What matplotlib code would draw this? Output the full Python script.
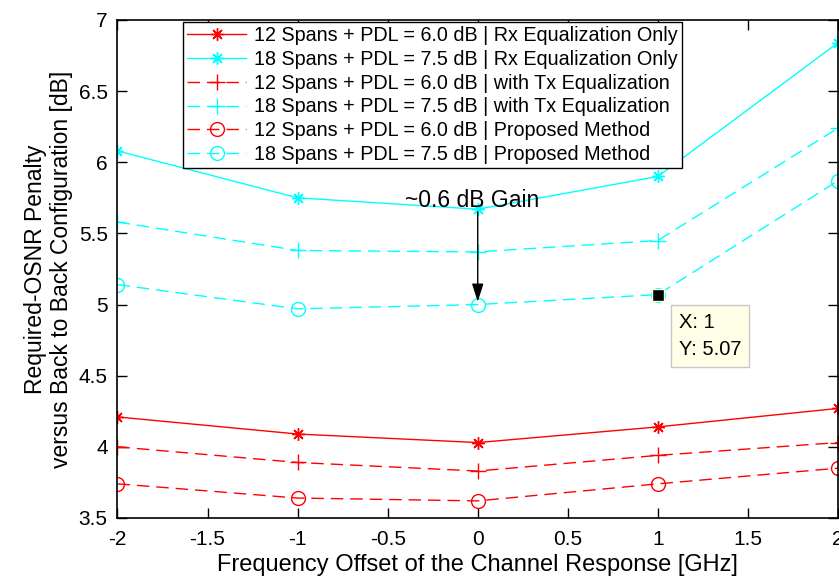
import numpy as np
import matplotlib
matplotlib.use("Agg")
from matplotlib import pyplot as plt

plt.rcParams['font.family'] = ['Liberation Sans', 'DejaVu Sans']

# 频率偏移 [GHz]
freq = [-2, -1, 0, 1, 2]

# 12 spans, PDL = 6.0 dB
red_rx = [4.21, 4.09, 4.03, 4.14, 4.27]
red_tx = [4.00, 3.89, 3.83, 3.94, 4.03]
red_prop = [3.74, 3.64, 3.62, 3.74, 3.85]

# 18 spans, PDL = 7.5 dB
cyan_rx = [6.08, 5.75, 5.67, 5.90, 6.84]
cyan_tx = [5.58, 5.38, 5.37, 5.45, 6.24]
cyan_prop = [5.14, 4.97, 5.00, 5.07, 5.87]

labels = ['12 Spans + PDL = 6.0 dB | Rx Equalization Only',
          '18 Spans + PDL = 7.5 dB | Rx Equalization Only',
          '12 Spans + PDL = 6.0 dB | with Tx Equalization',
          '18 Spans + PDL = 7.5 dB | with Tx Equalization',
          '12 Spans + PDL = 6.0 dB | Proposed Method',
          '18 Spans + PDL = 7.5 dB | Proposed Method']

xticks = [-2, -1.5, -1, -0.5, 0, 0.5, 1, 1.5, 2]
yticks = [3.5, 4, 4.5, 5, 5.5, 6, 6.5, 7]

red = '#ff0000'
cyan = '#00ffff'

fig = plt.figure(figsize=(8.39, 5.79), dpi=100)
ax = fig.add_axes([0.140, 0.1054, 0.8588, 0.8601])

dash = (0, (9, 5))
star = (8, 2, 0)
ax.plot(freq, red_rx, color=red, lw=1, marker=star, ms=9, mew=1, label=labels[0])
ax.plot(freq, cyan_rx, color=cyan, lw=1, marker=star, ms=9, mew=1, label=labels[1])
ax.plot(freq, red_tx, color=red, lw=1, ls=dash, marker='+', ms=11, mew=1, label=labels[2])
ax.plot(freq, cyan_tx, color=cyan, lw=1, ls=dash, marker='+', ms=11, mew=1, label=labels[3])
ax.plot(freq, red_prop, color=red, lw=1, ls=dash, marker='o', ms=10, mew=1, mfc='none', label=labels[4])
ax.plot(freq, cyan_prop, color=cyan, lw=1, ls=dash, marker='o', ms=10, mew=1, mfc='none', label=labels[5])

# 数据提示
ax.plot(freq[3], cyan_prop[3], marker='s', ms=9, color='k', mec='#ffffe0', mew=1, zorder=5)
ax.annotate('X: 1\nY: 5.07', xy=(freq[3], cyan_prop[3]), xytext=(15, -13),
            textcoords='offset points', fontsize=14.5, va='top', ha='left', linespacing=1.55,
            bbox=dict(boxstyle='square,pad=0.4', fc='#ffffe8', ec='#c8c8c8', lw=1))

# 增益箭头
ax.annotate('', xy=(0, 5.0), xytext=(0, cyan_rx[2]),
            arrowprops=dict(arrowstyle='-|>,head_length=1.1,head_width=0.35', color='k', lw=1))
ax.text(-0.03, 5.73, '~0.6 dB Gain', fontsize=16.5, ha='center', va='center')

ax.set_xlim(-2, 2)
ax.set_ylim(3.5, 7)
ax.set_xticks(xticks)
ax.set_xticklabels(['-2', '-1.5', '-1', '-0.5', '0', '0.5', '1', '1.5', '2'])
ax.set_yticks(yticks)
ax.set_yticklabels(['3.5', '4', '4.5', '5', '5.5', '6', '6.5', '7'])
ax.tick_params(direction='in', top=True, right=True, length=7, width=1, labelsize=15)
ax.tick_params(axis='x', pad=9)
ax.tick_params(axis='y', pad=7)
for s in ax.spines.values():
    s.set_linewidth(1.2)

ax.set_xlabel('Frequency Offset of the Channel Response [GHz]', fontsize=17, labelpad=3)
ax.set_ylabel('Required-OSNR Penalty\nversus Back to Back Configuration [dB]', fontsize=16.5,
              labelpad=4)

leg = ax.legend(loc='upper left', bbox_to_anchor=(0.088, 1.0), fontsize=14.2, frameon=True,
                fancybox=False, edgecolor='k', framealpha=1, handlelength=3, numpoints=1,
                borderpad=0.22, labelspacing=0.24, handletextpad=0.4, borderaxespad=0.1)
leg.get_frame().set_linewidth(1)

plt.savefig('out.png', dpi=100)
